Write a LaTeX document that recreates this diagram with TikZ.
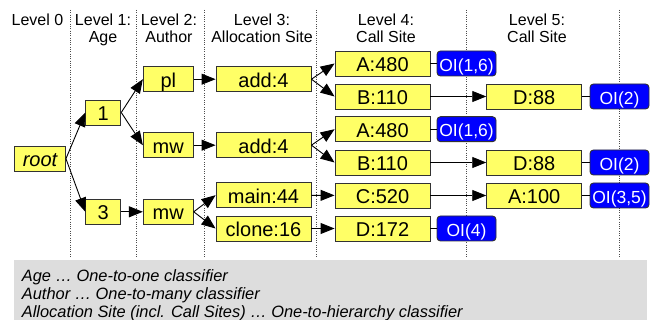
\documentclass[tikz,border=0pt]{standalone}
\usepackage{fontspec}
\setmainfont{Liberation Sans}
\usetikzlibrary{arrows.meta}
\definecolor{ybox}{RGB}{255,255,102}
\definecolor{bbox}{RGB}{0,0,255}
\definecolor{graybg}{RGB}{221,221,221}
\definecolor{edgec}{RGB}{50,50,50}
\begin{document}
\begin{tikzpicture}[x=1pt,y=-1pt,
  ynode/.style={draw=edgec, line width=0.9pt, fill=ybox, minimum height=25pt, inner sep=0pt,
    font=\fontsize{20}{22}\selectfont, text height=16pt, text depth=0pt},
  bnode/.style={draw=edgec, line width=0.9pt, fill=bbox, rounded corners=3.5pt, minimum height=25pt,
    minimum width=59pt, inner sep=0pt, text=white,
    font=\fontsize{17.5}{20}\selectfont, text height=15.5pt, text depth=0pt},
  header/.style={anchor=north, align=center, inner sep=0pt, font=\fontsize{16}{17.7}\selectfont},
  sep/.style={draw=black!70, line width=0.8pt, dash pattern=on 1pt off 1.3pt},
  arr/.style={draw=black, line width=0.9pt, -{Triangle[length=14pt,width=11pt]}},
  lnk/.style={draw=black, line width=0.9pt}
]
\useasboundingbox (0,0) rectangle (657,320);

% separators
\foreach \xx in {70,136,204.5,316,466,619}
  \draw[sep] (\xx,10) -- (\xx,258);

% headers
\node[header] (h0) at (37.5,13.5) {Level 0};
\node[header] (h1) at (103,13.5) {Level 1:\\Age};
\node[header] (h2) at (169,13.5) {Level 2:\\Author};
\node[header] (h3) at (262,13.5) {Level 3:\\Allocation Site};
\node[header] (h4) at (386,13.5) {Level 4:\\Call Site};
\node[header] (h5) at (537,13.5) {Level 5:\\Call Site};

% nodes
\node[ynode, minimum width=51pt] (root) at (40,158.7) {\itshape root};
\node[ynode, minimum width=35pt] (n1) at (103.3,112.5) {1};
\node[ynode, minimum width=35pt] (n3) at (103.3,211.8) {3};
\node[ynode, minimum width=50pt] (pl) at (168.3,79.2) {pl};
\node[ynode, minimum width=50pt] (mwa) at (168.3,145.2) {mw};
\node[ynode, minimum width=50pt] (mwb) at (168.3,211.8) {mw};
\node[ynode, minimum width=95pt] (adda) at (263.5,79.2) {add:4};
\node[ynode, minimum width=95pt] (addb) at (263.5,145.2) {add:4};
\node[ynode, minimum width=95pt] (main) at (263.5,195.2) {main:44};
\node[ynode, minimum width=95pt] (clone) at (263.5,228.5) {clone:16};
\node[ynode, minimum width=95pt] (a480a) at (382.5,63.5) {A:480};
\node[ynode, minimum width=95pt] (b110a) at (382.5,96.5) {B:110};
\node[ynode, minimum width=95pt] (a480b) at (382.5,129.2) {A:480};
\node[ynode, minimum width=95pt] (b110b) at (382.5,162.5) {B:110};
\node[ynode, minimum width=95pt] (c520) at (382.5,195.5) {C:520};
\node[ynode, minimum width=95pt] (d172) at (382.5,228.5) {D:172};
\node[ynode, minimum width=95pt] (d88a) at (534.2,96.5) {D:88};
\node[ynode, minimum width=95pt] (d88b) at (534.2,162.5) {D:88};
\node[ynode, minimum width=95pt] (a100) at (534.2,195.5) {A:100};
\node[bnode] (oi16a) at (466.5,63.5) {OI(1,6)};
\node[bnode] (oi16b) at (466.5,129.2) {OI(1,6)};
\node[bnode] (oi4) at (466.5,228.5) {OI(4)};
\node[bnode] (oi2a) at (619.5,96.5) {OI(2)};
\node[bnode] (oi2b) at (619.5,162.5) {OI(2)};
\node[bnode] (oi35) at (619.5,195.5) {OI(3,5)};

% arrows
\draw[arr] (root.east) -- (n1.west);
\draw[arr] (root.east) -- (n3.west);
\draw[arr] (n1.east) -- (pl.west);
\draw[arr] (n1.east) -- (mwa.west);
\draw[arr] (n3) -- (mwb);
\draw[arr] (pl) -- (adda);
\draw[arr] (mwa) -- (addb);
\draw[arr] (mwb.east) -- (main.west);
\draw[arr] (mwb.east) -- (clone.west);
\draw[arr] (adda.east) -- (a480a.west);
\draw[arr] (adda.east) -- (b110a.west);
\draw[arr] (addb.east) -- (a480b.west);
\draw[arr] (addb.east) -- (b110b.west);
\draw[arr] (main) -- (c520);
\draw[arr] (clone) -- (d172);
\draw[arr] (b110a) -- (d88a);
\draw[arr] (b110b) -- (d88b);
\draw[arr] (c520) -- (a100);
\draw[lnk] (a480a) -- (oi16a);
\draw[lnk] (a480b) -- (oi16b);
\draw[lnk] (d172) -- (oi4);
\draw[lnk] (d88a) -- (oi2a);
\draw[lnk] (d88b) -- (oi2b);
\draw[lnk] (a100) -- (oi35);

% legend
\fill[graybg] (14,260) rectangle (647,320);
\node[anchor=north west, align=left, inner sep=0pt, font=\fontsize{16.4}{18}\selectfont\itshape] (legend) at (21.7,269.2)
  {Age … One-to-one classifier\\Author … One-to-many classifier\\Allocation Site (incl. Call Sites) … One-to-hierarchy classifier};
\end{tikzpicture}
\end{document}
